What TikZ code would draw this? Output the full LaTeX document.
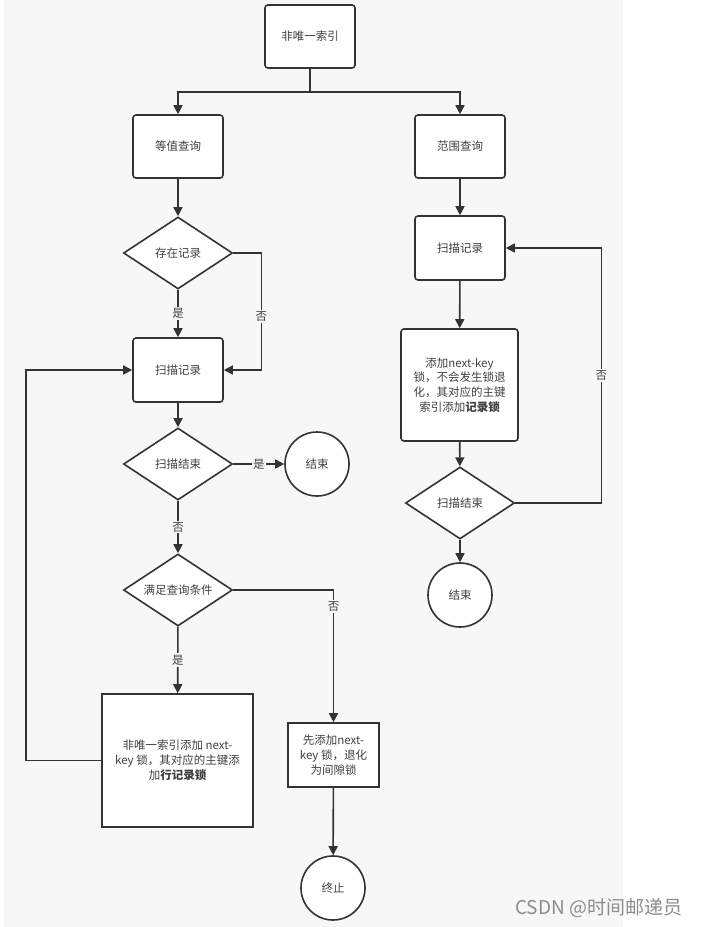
\documentclass[tikz,border=0pt]{standalone}
\usepackage{fontspec}
\setmainfont{Noto Sans CJK SC}
\usetikzlibrary{arrows.meta,shapes.geometric}
\definecolor{bg}{HTML}{F7F7F7}
\definecolor{ln}{HTML}{333333}
\definecolor{tx}{HTML}{404040}
\definecolor{wm}{HTML}{8C8C8C}
\begin{document}
\begin{tikzpicture}[x=1pt,y=-1pt,
  every node/.style={font=\fontsize{11.5}{15}\selectfont, text=tx},
  rbox/.style={draw=ln, line width=1.6pt, fill=white, rounded corners=3pt, minimum width=90pt, minimum height=63pt, inner sep=0pt, align=center},
  sbox/.style={draw=ln, line width=1.6pt, fill=white, inner sep=0pt, align=center},
  dia/.style={draw=ln, line width=1.6pt, fill=white, diamond, aspect=1.5, minimum width=109pt, minimum height=72pt, inner sep=0pt},
  term/.style={draw=ln, line width=1.6pt, fill=white, circle, minimum size=64pt, inner sep=0pt},
  arr/.style={draw=ln, line width=1.6pt, -{Triangle[length=9pt,width=9pt]}},
  lbl/.style={fill=bg, inner sep=1.5pt, text=tx}
]
\useasboundingbox (0,0) rectangle (701,927);
\fill[white] (0,0) rectangle (701,927);
\fill[bg] (4,0) rectangle (623,927);

% nodes
\node[rbox] (top) at (310,36.5) {非唯一索引};
\node[rbox] (eq) at (178,146.5) {等值查询};
\node[rbox] (rng) at (460,146.5) {范围查询};
\node[dia] (d1) at (178,253) {存在记录};
\node[rbox, minimum height=64pt] (scan1) at (178,370) {扫描记录};
\node[dia] (d2) at (178,464) {扫描结束};
\node[term] (end1) at (317,464) {结束};
\node[dia] (d3) at (178,590) {满足查询条件};
\node[sbox, minimum width=151pt, minimum height=133pt] (big) at (177.5,760.5)
  {非唯一索引添加 next-\\key 锁，其对应的主键添\\加\textbf{行记录锁}};
\node[sbox, minimum width=91pt, minimum height=64pt] (pre) at (333.5,755)
  {先添加next-\\key 锁，退化\\为间隙锁};
\node[term] (stop) at (333,888) {终止};

\node[rbox, minimum height=64pt] (scan2) at (460,248) {扫描记录};
\node[rbox, minimum width=117pt, minimum height=112pt, font=\fontsize{11.5}{14.6}\selectfont] (add) at (459.5,385)
  {添加next-key\\锁，不会发生锁退\\化，其对应的主键\\索引添加\textbf{记录锁}};
\node[dia] (d4) at (460,503) {扫描结束};
\node[term] (end2) at (460,595) {结束};

% connectors
\draw[draw=ln, line width=1.6pt] (top.south) -- ++(0,23) coordinate (j);
\draw[arr] (j) -| (eq.north);
\draw[arr] (j) -| (rng.north);
\draw[arr] (eq) -- (d1);
\draw[arr] (d1) -- node[lbl] {是} (scan1);
\draw[arr] (d1.east) -- ++(28,0) |- node[lbl, pos=0.27] {否} (scan1.east);
\draw[arr] (scan1) -- (d2);
\draw[arr] (d2) -- node[lbl] {是} (end1);
\draw[arr] (d2) -- node[lbl] {否} (d3);
\draw[arr] (d3) -- node[lbl] {是} (big);
\draw[arr] (d3.east) -| node[lbl, pos=0.564] {否} (pre.north);
\draw[arr] (pre) -- (stop);
\draw[arr] (big.west) -- ++(-75,0) |- (scan1.west);

\draw[arr] (rng) -- (scan2);
\draw[arr] (scan2) -- (add);
\draw[arr] (add) -- (d4);
\draw[arr] (d4) -- (end2);
\draw[arr] (d4.east) -- ++(86,0) |- node[lbl, pos=0.25] {否} (scan2.east);

% watermark
\node[anchor=west, text=wm, font=\fontsize{19}{21}\selectfont, inner sep=0pt] (wmk) at (515,908) {CSDN @时间邮递员};
\end{tikzpicture}
\end{document}
